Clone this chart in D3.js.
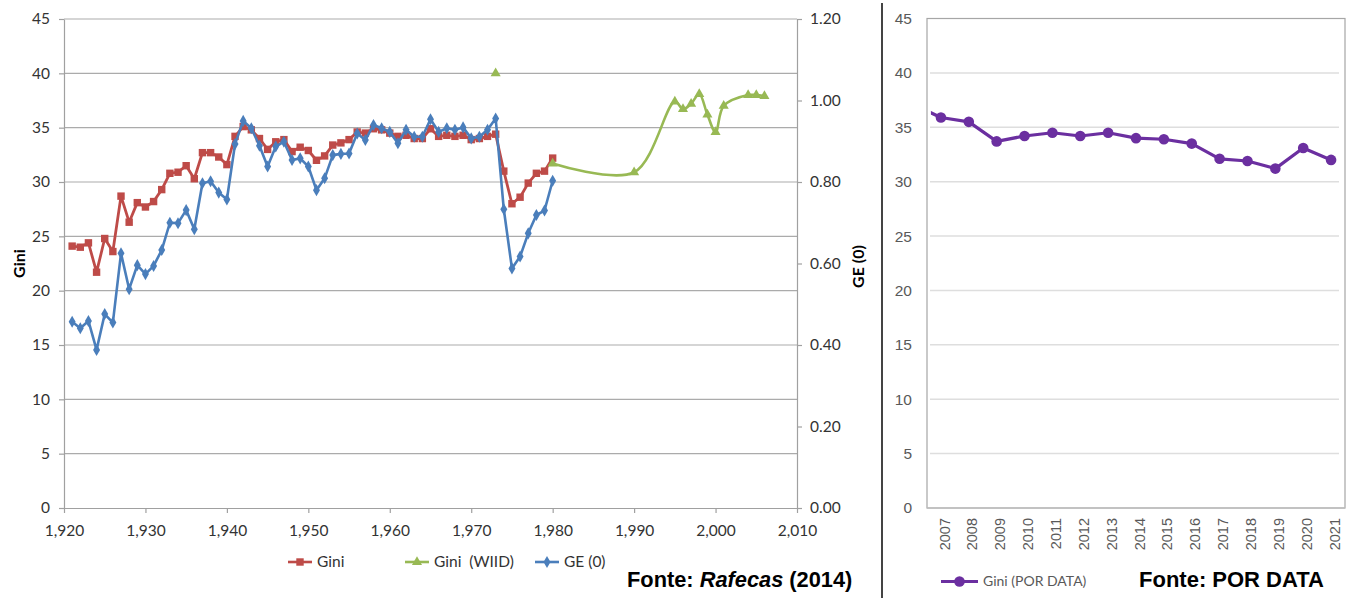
<!DOCTYPE html>
<html><head><meta charset="utf-8">
<script src="https://cdn.jsdelivr.net/npm/d3@7"></script>
<style>
body{margin:0;background:#fff;}
svg{display:block;font-family:Lato,"Open Sans",sans-serif;}
</style></head><body>
<svg id="c" width="1348" height="598"></svg>
<script>
// ---------- data ----------
const rafecasStartYear = 1921;
const giniRafecas = [24.1,24.0,24.4,21.7,24.8,23.6,28.7,26.3,28.1,27.7,
  28.2,29.3,30.8,30.9,31.5,30.3,32.7,32.7,32.3,31.6,
  34.2,35.1,34.8,34.0,33.0,33.7,33.9,32.8,33.2,32.9,
  32.0,32.4,33.4,33.6,33.9,34.6,34.5,34.9,34.8,34.5,
  34.2,34.3,34.0,34.0,34.9,34.2,34.3,34.2,34.3,33.9,
  34.0,34.2,34.4,31.0,28.0,28.6,29.9,30.8,31.0,32.2];
const ge0 = [0.457,0.441,0.459,0.388,0.476,0.455,0.625,0.537,0.596,0.574,
  0.594,0.633,0.700,0.699,0.731,0.684,0.797,0.802,0.774,0.757,
  0.893,0.950,0.932,0.889,0.838,0.887,0.899,0.854,0.858,0.838,
  0.780,0.809,0.866,0.869,0.870,0.919,0.903,0.940,0.932,0.923,
  0.895,0.928,0.911,0.911,0.954,0.923,0.932,0.928,0.934,0.907,
  0.911,0.928,0.956,0.733,0.588,0.617,0.674,0.719,0.730,0.803];
const wiidYears  = [1973, 1974, 1980, 1990, 1995, 1996, 1997, 1998, 1999, 2000, 2001, 2004, 2005, 2006];
const wiidValues = [40.0, null, 31.7, 30.9, 37.4, 36.7, 37.2, 38.1, 36.2, 34.6, 37.0, 38.0, 38.0, 37.9];
const xTicksLeft = [1920,1930,1940,1950,1960,1970,1980,1990,2000,2010];
const giniTicks = [0,5,10,15,20,25,30,35,40,45];
const geTicks = [0,0.2,0.4,0.6,0.8,1.0,1.2];

const pdYears = ["2007","2008","2009","2010","2011","2012","2013","2014","2015","2016","2017","2018","2019","2020","2021"];
const pdGini  = [35.9,35.5,33.7,34.2,34.5,34.2,34.5,34.0,33.9,33.5,32.1,31.9,31.2,33.1,32.0];
const pdBefore2007 = 37.1; // partially visible segment entering from the left
const pdTicks = [0,5,10,15,20,25,30,35,40,45];

const C = {red:"#be4b48", green:"#98b954", blue:"#4a7ebb", purple:"#6b2fa0"};

// ---------- setup ----------
const svg = d3.select("#c");
const L = {x0:64, x1:797, y0:508, y1:19};
const x = d3.scaleLinear().domain([1920,2010]).range([L.x0,L.x1]);
const yG = d3.scaleLinear().domain([0,45]).range([L.y0,L.y1]);
const yE = d3.scaleLinear().domain([0,1.2]).range([L.y0,L.y1]);

// gridlines
svg.append("g").selectAll("line").data(giniTicks.filter(d=>d>0)).join("line")
  .attr("x1",L.x0).attr("x2",L.x1).attr("y1",d=>yG(d)).attr("y2",d=>yG(d))
  .attr("stroke","#ababab").attr("stroke-width",1.2);

function styleAxis(g, col){
  g.selectAll(".domain").attr("stroke","#a0a0a0").attr("stroke-width",1.2);
  g.selectAll(".tick line").attr("stroke","#a0a0a0").attr("stroke-width",1.2);
  g.selectAll("text").attr("fill",col||"#333").attr("font-size",15.5).attr("font-family","Lato, sans-serif");
}
const axL = svg.append("g").attr("transform",`translate(${L.x0},0)`)
  .call(d3.axisLeft(yG).tickValues(giniTicks).tickSize(5).tickSizeOuter(0).tickPadding(9));
styleAxis(axL);
const axR = svg.append("g").attr("transform",`translate(${L.x1},0)`)
  .call(d3.axisRight(yE).tickValues(geTicks).tickFormat(d3.format(".2f")).tickSize(5).tickSizeOuter(0).tickPadding(8));
styleAxis(axR);
const axB = svg.append("g").attr("transform",`translate(0,${L.y0})`)
  .call(d3.axisBottom(x).tickValues(xTicksLeft).tickFormat(d3.format(",")).tickSize(5).tickSizeOuter(0).tickPadding(12));
styleAxis(axB);

svg.append("text").attr("transform",`translate(18,${(L.y0+L.y1)/2}) rotate(-90)`)
  .attr("text-anchor","middle").attr("dominant-baseline","central")
  .attr("font-weight","bold").attr("font-size",16).attr("fill","#000").text("Gini");
svg.append("text").attr("transform",`translate(857,${(L.y0+L.y1)/2+3}) rotate(-90)`)
  .attr("text-anchor","middle").attr("dominant-baseline","central")
  .attr("font-weight","bold").attr("font-size",16).attr("fill","#000").text("GE (0)");

// series data
const redData = giniRafecas.map((v,i)=>({year:rafecasStartYear+i, v}));
const blueData = ge0.map((v,i)=>({year:rafecasStartYear+i, v}));
const greenData = wiidYears.map((yr,i)=>({year:yr, v:wiidValues[i]}));

// red Gini
svg.append("path").datum(redData)
  .attr("d", d3.line().x(d=>x(d.year)).y(d=>yG(d.v)))
  .attr("fill","none").attr("stroke",C.red).attr("stroke-width",2.8).attr("stroke-linejoin","round");
svg.append("g").selectAll("path").data(redData).join("path")
  .attr("transform",d=>`translate(${x(d.year)},${yG(d.v)})`)
  .attr("d", d3.symbol(d3.symbolSquare, 55)).attr("fill",C.red);

// green WIID (smoothed)
svg.append("path").datum(greenData)
  .attr("d", d3.line().defined(d=>d.v!=null).curve(d3.curveCatmullRom.alpha(0.5)).x(d=>x(d.year)).y(d=>yG(d.v)))
  .attr("fill","none").attr("stroke",C.green).attr("stroke-width",2.6);
svg.append("g").selectAll("path").data(greenData.filter(d=>d.v!=null)).join("path")
  .attr("transform",d=>`translate(${x(d.year)},${yG(d.v)})`)
  .attr("d", d3.symbol(d3.symbolTriangle, 44)).attr("fill",C.green);

// blue GE(0) on secondary axis
svg.append("path").datum(blueData)
  .attr("d", d3.line().x(d=>x(d.year)).y(d=>yE(d.v)))
  .attr("fill","none").attr("stroke",C.blue).attr("stroke-width",2.6).attr("stroke-linejoin","round");
svg.append("g").selectAll("path").data(blueData).join("path")
  .attr("transform",d=>`translate(${x(d.year)},${yE(d.v)})`)
  .attr("d", d3.symbol(d3.symbolDiamond, 42)).attr("fill",C.blue);

// left legend
const legY = 562;
const legItems = [
  {label:"Gini", col:C.red, sym:d3.symbolSquare, size:55, x:288},
  {label:"Gini  (WIID)", col:C.green, sym:d3.symbolTriangle, size:44, x:405},
  {label:"GE (0)", col:C.blue, sym:d3.symbolDiamond, size:42, x:535}
];
const lg = svg.append("g").selectAll("g").data(legItems).join("g")
  .attr("transform",d=>`translate(${d.x},${legY})`);
lg.append("line").attr("x1",0).attr("x2",24).attr("stroke",d=>d.col).attr("stroke-width",2.6);
lg.append("path").attr("transform","translate(12,0)").attr("d",d=>d3.symbol(d.sym,d.size)()).attr("fill",d=>d.col);
lg.append("text").attr("x",29).attr("dy","0.35em").attr("font-size",15.5).attr("fill","#333")
  .style("white-space","pre").text(d=>d.label);

// source left
const fl = svg.append("text").attr("x",627).attr("y",587)
  .attr("font-family","'Liberation Sans', Arial, sans-serif").attr("font-weight","bold").attr("font-size",21.8).attr("fill","#000");
fl.append("tspan").text("Fonte: ");
fl.append("tspan").attr("font-style","italic").text("Rafecas");
fl.append("tspan").text(" (2014)");

// separator
svg.append("line").attr("x1",882).attr("x2",882).attr("y1",3).attr("y2",598)
  .attr("stroke","#444").attr("stroke-width",2);

// ---------- right chart ----------
const R = {x0:927, x1:1345, y0:508, y1:18.5};
const xr = d3.scalePoint().domain(pdYears).range([R.x0,R.x1]).padding(0.5);
const yr = d3.scaleLinear().domain([0,45]).range([R.y0,R.y1]);

svg.append("g").selectAll("line").data(pdTicks.filter(d=>d>0&&d<45)).join("line")
  .attr("x1",R.x0+3).attr("x2",R.x1-6).attr("y1",d=>yr(d)).attr("y2",d=>yr(d))
  .attr("stroke","#dedede").attr("stroke-width",1.5);
svg.append("rect").attr("x",R.x0).attr("y",R.y1).attr("width",R.x1-R.x0).attr("height",R.y0-R.y1)
  .attr("fill","none").attr("stroke","#a6a6a6").attr("stroke-width",1.2);
svg.append("line").attr("x1",R.x0).attr("x2",R.x1).attr("y1",R.y0).attr("y2",R.y0)
  .attr("stroke","#bfbfbf").attr("stroke-width",1.5);

const ayr = svg.append("g").attr("transform",`translate(${R.x0},0)`)
  .call(d3.axisLeft(yr).tickValues(pdTicks).tickSize(0).tickPadding(15));
ayr.select(".domain").remove();
ayr.selectAll("text").attr("fill","#595959").attr("font-size",15.5);

const axr = svg.append("g").attr("transform",`translate(0,${R.y0})`)
  .call(d3.axisBottom(xr).tickSize(0).tickPadding(0));
axr.select(".domain").remove();
axr.selectAll("text").attr("fill","#595959").attr("font-size",14.5)
  .attr("text-anchor","end").attr("dy","0.35em")
  .attr("transform","translate(3,10) rotate(-90)")
  .attr("y",0).attr("x",0);

// purple series with clipped lead-in segment
const step = xr.step();
svg.append("clipPath").attr("id","rclip").append("rect")
  .attr("x", xr(pdYears[0]) - 0.36*step).attr("y",R.y1).attr("width",R.x1).attr("height",R.y0-R.y1);
const pdData = pdYears.map((yv,i)=>({px:xr(yv), v:pdGini[i]}));
const pdLine = [{px:xr(pdYears[0])-step, v:pdBefore2007}].concat(pdData);
svg.append("path").datum(pdLine).attr("clip-path","url(#rclip)")
  .attr("d", d3.line().x(d=>d.px).y(d=>yr(d.v)))
  .attr("fill","none").attr("stroke",C.purple).attr("stroke-width",3.2).attr("stroke-linejoin","round");
svg.append("g").selectAll("circle").data(pdData).join("circle")
  .attr("cx",d=>d.px).attr("cy",d=>yr(d.v)).attr("r",5.3).attr("fill",C.purple);

// right legend
const rl = svg.append("g").attr("transform","translate(941,581.5)");
rl.append("line").attr("x1",0).attr("x2",37).attr("stroke",C.purple).attr("stroke-width",3.2);
rl.append("circle").attr("cx",18.5).attr("r",5.3).attr("fill",C.purple);
rl.append("text").attr("x",42).attr("dy","0.35em").attr("font-size",14).attr("fill","#595959").text("Gini (POR DATA)");

svg.append("text").attr("x",1139).attr("y",587)
  .attr("font-family","'Liberation Sans', Arial, sans-serif").attr("font-weight","bold").attr("font-size",22).attr("fill","#000")
  .text("Fonte: POR DATA");
</script>
</body></html>
